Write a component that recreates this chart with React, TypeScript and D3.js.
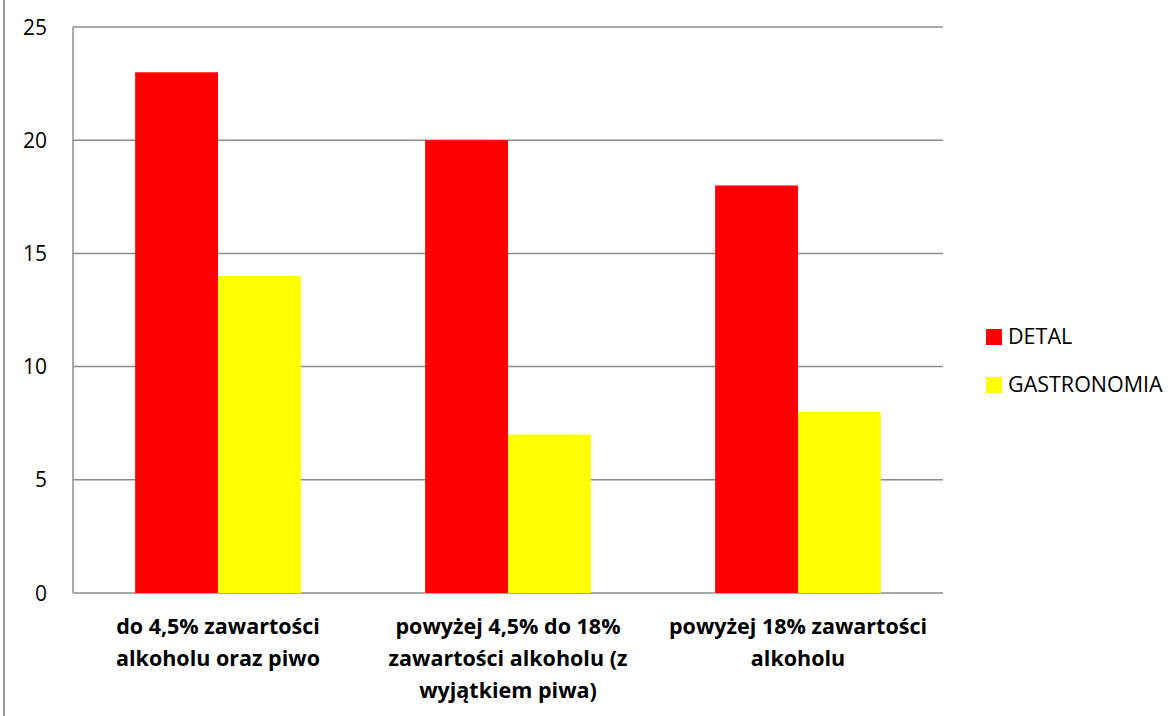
import React from "react";
import * as d3 from "d3";

const categories: string[][] = [
  ["do 4,5% zawartości", "alkoholu oraz piwo"],
  ["powyżej 4,5% do 18%", "zawartości alkoholu (z", "wyjątkiem piwa)"],
  ["powyżej 18% zawartości", "alkoholu"],
];
const seriesNames = ["DETAL", "GASTRONOMIA"];
const detal = [23, 20, 18];
const gastronomia = [14, 7, 8];
const yTicks = [0, 5, 10, 15, 20, 25];
const colors = ["#ff0000", "#ffff00"];

export default function App() {
  const W = 1176, H = 716;
  const left = 73, right = 943, top = 27, bottom = 593;
  const font = "Open Sans, Noto Sans, sans-serif";
  const x = d3.scaleBand<number>().domain([0, 1, 2]).range([left, right]).paddingInner(0).paddingOuter(0);
  const y = d3.scaleLinear().domain([0, 25]).range([bottom, top]);
  const bw = x.bandwidth() / 3.5;
  const series = [detal, gastronomia];
  return (
    <svg width={W} height={H} style={{ position: "absolute", left: 0, top: 0, background: "#fff" }}>
      <line x1={4} x2={4} y1={0} y2={H} stroke="#999" strokeWidth={2} />
      {yTicks.map((t) => (
        <g key={t}>
          <line x1={left} x2={right} y1={y(t)} y2={y(t)} stroke="#8c8c8c" strokeWidth={1.5} />
          <text x={47} y={y(t)} dy="0.36em" textAnchor="end" fontFamily={font} fontSize={21} fill="#000">{t}</text>
        </g>
      ))}
      <line x1={left} x2={left} y1={top} y2={bottom} stroke="#8c8c8c" strokeWidth={1.5} />
      {series.map((vals, si) =>
        vals.map((v, i) => {
          const bx = (x(i) as number) + x.bandwidth() / 2 - bw + si * bw;
          return <rect key={si + "-" + i} x={bx} y={y(v)} width={bw} height={y(0) - y(v)} fill={colors[si]} />;
        })
      )}
      {categories.map((lines, i) => (
        <text key={i} textAnchor="middle" fontFamily={font} fontWeight="bold" fontSize={21.5} fill="#000">
          {lines.map((l, j) => (
            <tspan key={j} x={(x(i) as number) + x.bandwidth() / 2} y={634 + j * 32}>{l}</tspan>
          ))}
        </text>
      ))}
      {seriesNames.map((n, i) => (
        <g key={n}>
          <rect x={986} y={329 + i * 48} width={16} height={16} fill={colors[i]} />
          <text x={1008} y={344 + i * 48} fontFamily={font} fontSize={21.5} fill="#000">{n}</text>
        </g>
      ))}
    </svg>
  );
}
